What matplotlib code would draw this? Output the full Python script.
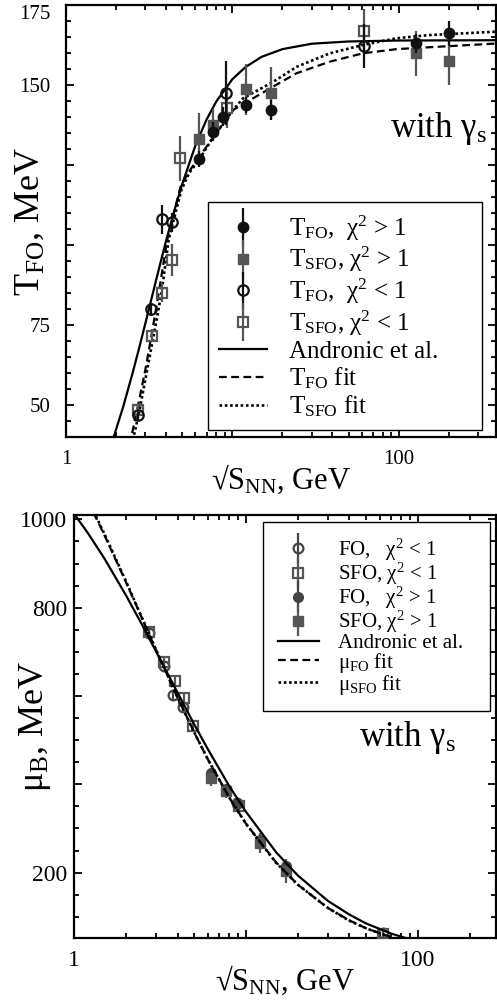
import matplotlib
matplotlib.use("Agg")
import matplotlib.pyplot as plt
from matplotlib.ticker import FixedLocator, MultipleLocator, NullFormatter, FixedFormatter
from matplotlib.legend_handler import HandlerErrorbar
from matplotlib.container import ErrorbarContainer

plt.rcParams['font.family'] = ['Liberation Serif', 'DejaVu Serif']
plt.rcParams['mathtext.fontset'] = 'custom'
plt.rcParams['mathtext.rm'] = 'Liberation Serif'
plt.rcParams['mathtext.it'] = 'Liberation Serif:italic'
plt.rcParams['mathtext.bf'] = 'Liberation Serif:bold'

# ---- temperature panel data (sqrt(s_NN) in GeV, T in MeV) ----
s_fo_hi = [6.27, 7.62, 8.85, 12.1, 17.1, 128, 200]
t_fo_hi = [126.8, 135.4, 140.1, 143.8, 142.2, 163.0, 166.1]
e_fo_hi = [2.5, 3, 3, 2.5, 3, 3, 4]

s_sfo_hi = [6.27, 7.62, 12.1, 17.1, 128, 200]
t_sfo_hi = [133.1, 137.5, 148.6, 147.5, 159.9, 157.6]
e_sfo_hi = [8, 5, 8, 8, 7, 7.5]

s_fo_lo = [2.72, 3.26, 3.80, 4.31, 9.2, 62.0]
t_fo_lo = [46.9, 79.9, 108.0, 107.1, 147.4, 162.2]
e_fo_lo = [1.5, 2, 4.5, 3, 10, 7]

s_sfo_lo = [2.72, 3.31, 3.76, 4.31, 4.88, 9.3, 62.0]
t_sfo_lo = [48.4, 71.7, 85.1, 95.3, 127.1, 142.7, 166.9]
e_sfo_lo = [1.5, 2, 3, 5, 7, 6, 7]

# curves
s_andr_t = [1.9, 2.2, 2.5, 2.75, 3, 3.5, 4, 4.5, 5, 6, 7, 8, 10, 12, 15, 20, 30, 50, 100, 400]
t_andr = [38.7, 49.2, 59.5, 67.7, 75.5, 89.5, 101.4, 111.1, 119.1, 131.1, 139.2, 144.8,
          151.8, 155.6, 158.8, 161.2, 162.9, 163.6, 163.9, 164.0]

s_fit_fo = [2.40, 2.47, 2.69, 3.0, 3.27, 3.62, 4.06, 4.88, 5.5, 6.15, 7.7, 10.1, 12.8,
            17.6, 24.4, 38.6, 60.9, 96.7, 153, 400]
t_fit_fo = [37.5, 40.0, 49.0, 61.0, 71.9, 85.4, 101.6, 118.2, 123.0, 126.6, 133.8, 142.2,
            145.3, 149.5, 153.7, 157.3, 159.9, 161.2, 161.8, 163.0]

s_fit_sfo = [2.48, 2.55, 2.77, 3.05, 3.37, 3.76, 4.14, 4.94, 5.5, 6.17, 7.7, 10.1, 11.65,
             17.6, 24.4, 38.6, 60.9, 96.7, 153, 400]
t_fit_sfo = [37.5, 40.0, 48.4, 60.0, 71.9, 85.3, 101.6, 117.2, 122.5, 125.9, 133.75, 142.2,
             145.9, 151.0, 155.7, 159.9, 162.5, 164.6, 165.6, 166.7]

# ---- baryon chemical potential panel data (MeV) ----
m_fo_lo_s = [2.72, 3.32, 3.77, 4.30, 8.9, 62.6]
m_fo_lo = [743, 669, 602, 576, 358, 63]
m_fo_lo_e = [8, 8, 10, 10, 12, 6]

m_sfo_lo_s = [2.72, 3.34, 3.87, 4.36, 4.92, 9.1, 62.6]
m_sfo_lo = [746, 677, 634, 595, 532, 352, 61]
m_sfo_lo_e = [8, 10, 10, 12, 12, 15, 6]

m_fo_hi_s = [6.26, 7.66, 8.9, 12.1, 17.1]
m_fo_hi = [426, 390, 356, 275, 215]
m_fo_hi_e = [12, 10, 10, 12, 12]

m_sfo_hi_s = [6.26, 7.66, 12.1, 17.1]
m_sfo_hi = [415, 384, 267, 204]
m_sfo_hi_e = [18, 15, 22, 28]

s_andr_m = [1, 1.2, 1.5, 2, 2.5, 3, 4, 5, 6, 8, 10, 15, 20, 30, 40, 50, 70, 90, 120]
m_andr = [1013, 970, 912, 829, 760, 701, 608, 536, 480, 396, 338, 246, 194, 136,
          105, 85, 62, 49, 37]

s_mfit = [1.3, 1.5, 2, 2.5, 3, 4, 5, 6, 8, 10, 15, 20, 30, 40, 50, 70, 100]
m_fit_fo = [1015, 965, 859, 774, 704, 597, 518, 457, 370, 311, 223, 173, 120, 92, 74, 54, 38]
m_fit_sfo = [1018, 968, 861, 775, 705, 597, 518, 457, 370, 311, 222, 173, 120, 91, 74, 53, 38]

fig = plt.figure(figsize=(4.97, 10), dpi=100)
ax1 = fig.add_axes([0.1328, 0.563, 0.8652, 0.432])
ax2 = fig.add_axes([0.1489, 0.062, 0.8491, 0.423])

black = '#111111'
grey = '#555555'
dgrey = '#444444'
dash = (0, (3.5, 2))
dot = (0, (1, 1))
err_handler = {ErrorbarContainer: HandlerErrorbar(yerr_size=0.75)}


def style_axes(ax, xmax, ylo, yhi, major, minor, labels, ypad, lsize):
    ax.set_xscale('log')
    ax.set_xlim(1, xmax)
    ax.set_ylim(ylo, yhi)
    ax.xaxis.set_major_locator(FixedLocator([1, 10, 100]))
    ax.xaxis.set_major_formatter(FixedFormatter(['1', '', '100']))
    ax.xaxis.set_minor_formatter(NullFormatter())
    ax.yaxis.set_major_locator(MultipleLocator(major))
    ax.yaxis.set_minor_locator(MultipleLocator(minor))
    ax.yaxis.set_major_formatter(plt.FuncFormatter(lambda v, p: '%d' % v if int(round(v)) in labels else ''))
    ax.tick_params(which='both', direction='in', top=True, right=True, width=1.3)
    ax.tick_params(which='major', length=6)
    ax.tick_params(which='minor', length=3.5)
    ax.tick_params(axis='y', pad=ypad, labelsize=lsize)
    ax.tick_params(axis='x', pad=9, labelsize=lsize)
    for sp in ax.spines.values():
        sp.set_linewidth(1.6)


# ---- top panel: freeze-out temperature ----
style_axes(ax1, 385, 40, 175, 25, 5, [50, 75, 150, 175], 11, 15)
h1 = ax1.errorbar(s_fo_hi, t_fo_hi, yerr=e_fo_hi, fmt='o', ms=7.5, color=black,
                  elinewidth=1.6, zorder=4)
h2 = ax1.errorbar(s_sfo_hi, t_sfo_hi, yerr=e_sfo_hi, fmt='s', ms=7.5, color=grey,
                  elinewidth=1.6, zorder=3)
h3 = ax1.errorbar(s_fo_lo, t_fo_lo, yerr=e_fo_lo, fmt='o', ms=7.5, color=black,
                  mfc='none', mew=1.6, elinewidth=1.6, zorder=4)
h4 = ax1.errorbar(s_sfo_lo, t_sfo_lo, yerr=e_sfo_lo, fmt='s', ms=7.5, color=grey,
                  mfc='none', mew=1.6, elinewidth=1.6, zorder=3)
l1, = ax1.plot(s_andr_t, t_andr, color='black', lw=1.6, zorder=2)
l2, = ax1.plot(s_fit_fo, t_fit_fo, color='black', lw=1.6, ls=dash, zorder=2)
l3, = ax1.plot(s_fit_sfo, t_fit_sfo, color='black', lw=1.9, ls=dot, zorder=2)

for t in ax1.get_yticklabels():
    if t.get_text() == '175':
        t.set_va('top')

ax1.set_ylabel('T$_{\\rm FO}$, MeV', fontsize=26, va='center')
ax1.yaxis.set_label_coords(-0.084, 0.5)
ax1.set_xlabel('√S$_{\\rm NN}$, GeV', fontsize=22, labelpad=-4)
ax1.text(0.865, 0.715, 'with γ$_{\\rm s}$', transform=ax1.transAxes, fontsize=25,
         ha='center', va='center')

leg1 = ax1.legend([h1, h2, h3, h4, l1, l2, l3],
                  ['T$_{\\rm FO}$,  χ$^2$ > 1', 'T$_{\\rm SFO}$, χ$^2$ > 1',
                   'T$_{\\rm FO}$,  χ$^2$ < 1', 'T$_{\\rm SFO}$, χ$^2$ < 1',
                   'Andronic et al.', 'T$_{\\rm FO}$ fit', 'T$_{\\rm SFO}$ fit'],
                  loc='upper left', bbox_to_anchor=(0.33, 0.444, 0.637, 0.1),
                  mode='expand', fontsize=18, handler_map=err_handler,
                  frameon=True, fancybox=False, framealpha=1, edgecolor='black',
                  borderpad=0.45, handlelength=1.9, handletextpad=0.9,
                  labelspacing=0.1, borderaxespad=0)
leg1.get_frame().set_linewidth(1.0)

# ---- bottom panel: baryon chemical potential ----
style_axes(ax2, 285, 52, 1010, 200, 50, [200, 800, 1000], 5, 17)
g1 = ax2.errorbar(m_fo_lo_s, m_fo_lo, yerr=m_fo_lo_e, fmt='o', ms=7, color=dgrey,
                  mfc='none', mew=1.6, elinewidth=1.6, zorder=3)
g2 = ax2.errorbar(m_sfo_lo_s, m_sfo_lo, yerr=m_sfo_lo_e, fmt='s', ms=7, color=grey,
                  mfc='none', mew=1.6, elinewidth=1.6, zorder=3)
g3 = ax2.errorbar(m_fo_hi_s, m_fo_hi, yerr=m_fo_hi_e, fmt='o', ms=7, color=dgrey,
                  elinewidth=1.6, zorder=3)
g4 = ax2.errorbar(m_sfo_hi_s, m_sfo_hi, yerr=m_sfo_hi_e, fmt='s', ms=7, color=grey,
                  elinewidth=1.6, zorder=3)
k1, = ax2.plot(s_andr_m, m_andr, color='black', lw=1.6, zorder=4)
k2, = ax2.plot(s_mfit, m_fit_fo, color='black', lw=1.6, ls=dash, zorder=4)
k3, = ax2.plot(s_mfit, m_fit_sfo, color='black', lw=1.9, ls=dot, zorder=4)

ax2.set_ylabel('μ$_{\\rm B}$, MeV', fontsize=26, va='center')
ax2.yaxis.set_label_coords(-0.092, 0.5)
ax2.set_xlabel('√S$_{\\rm NN}$, GeV', fontsize=22, labelpad=-6)
ax2.text(0.789, 0.473, 'with γ$_{\\rm s}$', transform=ax2.transAxes, fontsize=25,
         ha='center', va='center')

leg2 = ax2.legend([g1, g2, g3, g4, k1, k2, k3],
                  ['FO,   χ$^2$ < 1', 'SFO, χ$^2$ < 1', 'FO,   χ$^2$ > 1',
                   'SFO, χ$^2$ > 1', 'Andronic et al.', 'μ$_{\\rm FO}$ fit',
                   'μ$_{\\rm SFO}$ fit'],
                  loc='upper left', bbox_to_anchor=(0.448, 0.973, 0.538, 0.01),
                  mode='expand', fontsize=15, handler_map=err_handler,
                  frameon=True, fancybox=False, framealpha=1, edgecolor='black',
                  borderpad=0.7, handlelength=2.0, handletextpad=0.9,
                  labelspacing=-0.1, borderaxespad=0)
leg2.get_frame().set_linewidth(1.0)

fig.savefig('out.png', dpi=100)
